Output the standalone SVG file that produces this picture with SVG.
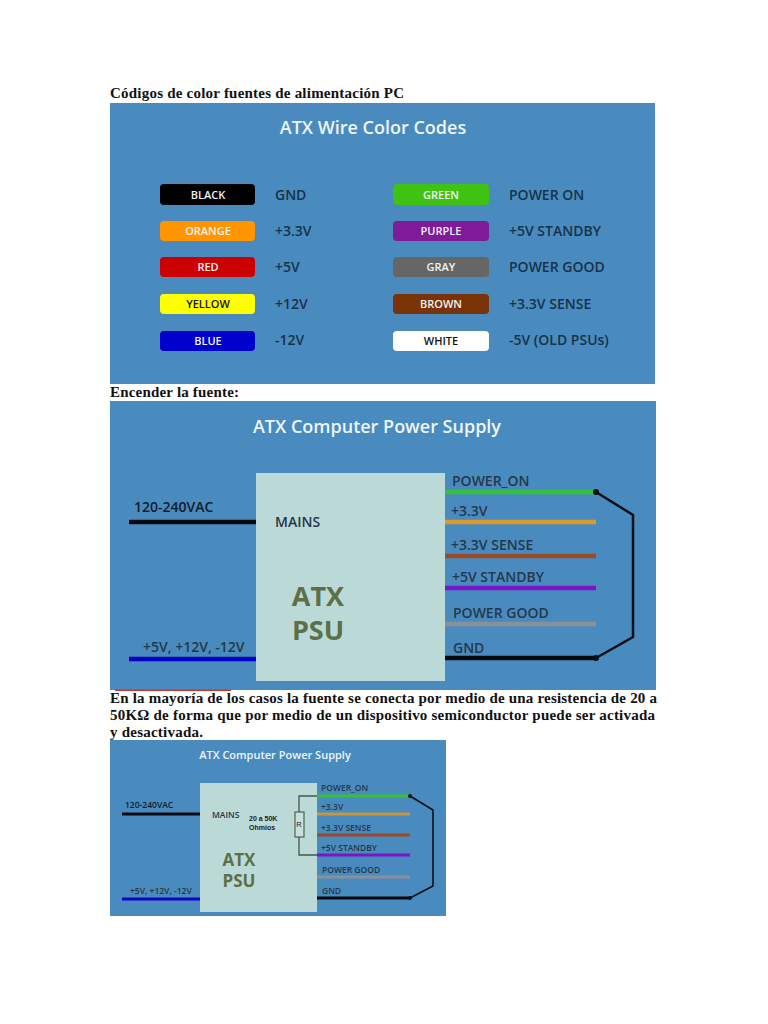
<svg xmlns="http://www.w3.org/2000/svg" width="768" height="1024" viewBox="0 0 768 1024">
<style>
.doc{font-family:"Liberation Serif",serif;font-weight:700;font-size:15px;fill:#111}
.panel{fill:#4a8bbf}
.t{font-family:"Open Sans","Noto Sans",sans-serif;font-weight:600}
.h1{font-size:18px;fill:#eef5f8;text-anchor:middle}
.sw{font-size:11px;text-anchor:middle;fill:#f2f2f2}
.lb{font-size:14px;fill:#17324a}
.l2{font-size:14px;fill:#24384a}
.l3{font-size:8.5px;fill:#24384a}
.wire{fill:none;stroke-width:4.5}
.wire3{fill:none;stroke-width:3}
.box{fill:#bbd9d6}
.atx{fill:#5b7048;font-weight:700;text-anchor:middle}
</style>
<rect width="768" height="1024" fill="#fff"/>
<text class="doc" x="110" y="98" textLength="294" lengthAdjust="spacing">Códigos de color fuentes de alimentación PC</text>
<text class="doc" x="110" y="397" textLength="129" lengthAdjust="spacing">Encender la fuente:</text>
<text class="doc" x="110" y="703" textLength="547" lengthAdjust="spacing">En la mayoría de los casos la fuente se conecta por medio de una resistencia de 20 a</text>
<text class="doc" x="110" y="720" textLength="545" lengthAdjust="spacing">50KΩ de forma que por medio de un dispositivo semiconductor puede ser activada</text>
<text class="doc" x="110" y="737" textLength="93" lengthAdjust="spacing">y desactivada.</text>

<g id="panel-codes">
<rect class="panel" x="110" y="103" width="545" height="281"/>
<text class="t h1" x="373" y="134">ATX Wire Color Codes</text>
<g id="black"><rect x="160" y="184" width="95" height="21" rx="4" fill="#000"/><text class="t sw" x="208" y="199">BLACK</text><text class="t lb" x="275" y="200">GND</text></g>
<g id="orange"><rect x="160" y="221" width="95" height="20" rx="4" fill="#ff9500"/><text class="t sw" x="208" y="235">ORANGE</text><text class="t lb" x="275" y="236">+3.3V</text></g>
<g id="red"><rect x="160" y="257" width="95" height="20" rx="4" fill="#cc0000"/><text class="t sw" x="208" y="271">RED</text><text class="t lb" x="275" y="272">+5V</text></g>
<g id="yellow"><rect x="160" y="294" width="95" height="20" rx="4" fill="#ffff00"/><text class="t sw" x="208" y="308" style="fill:#111">YELLOW</text><text class="t lb" x="275" y="309">+12V</text></g>
<g id="blue"><rect x="160" y="331" width="95" height="20" rx="4" fill="#0000cc"/><text class="t sw" x="208" y="345">BLUE</text><text class="t lb" x="275" y="345">-12V</text></g>
<g id="green"><rect x="393" y="184" width="96" height="21" rx="4" fill="#3fc212"/><text class="t sw" x="441" y="199">GREEN</text><text class="t lb" x="509" y="200">POWER ON</text></g>
<g id="purple"><rect x="393" y="221" width="96" height="20" rx="4" fill="#7f1a99"/><text class="t sw" x="441" y="235">PURPLE</text><text class="t lb" x="509" y="236">+5V STANDBY</text></g>
<g id="gray"><rect x="393" y="257" width="96" height="20" rx="4" fill="#666666"/><text class="t sw" x="441" y="271">GRAY</text><text class="t lb" x="509" y="272">POWER GOOD</text></g>
<g id="brown"><rect x="393" y="294" width="96" height="20" rx="4" fill="#7a3208"/><text class="t sw" x="441" y="308">BROWN</text><text class="t lb" x="509" y="309">+3.3V SENSE</text></g>
<g id="white"><rect x="393" y="331" width="96" height="20" rx="4" fill="#ffffff"/><text class="t sw" x="441" y="345" style="fill:#111">WHITE</text><text class="t lb" x="509" y="345">-5V (OLD PSUs)</text></g>
</g>

<g id="panel-psu">
<rect class="panel" x="110" y="401" width="546" height="289"/>
<rect x="115" y="689.5" width="116" height="1.5" fill="#c0392b"/>
<text class="t h1" x="377" y="433">ATX Computer Power Supply</text>
<g id="connectors-psu">
<path class="wire" stroke="#050a10" d="M129 522H256"/>
<path class="wire" stroke="#0000c8" d="M129 659H256"/>
<path class="wire" stroke="#35c23a" d="M445 492H596"/>
<path class="wire" stroke="#dc9a2c" d="M445 522H596"/>
<path class="wire" stroke="#9a4a28" d="M445 556H596"/>
<path class="wire" stroke="#7a16c8" d="M445 588H596"/>
<path class="wire" stroke="#8a9098" d="M445 624H596"/>
<path class="wire" stroke="#050a10" d="M445 658H596"/>
<path fill="none" stroke="#0a1018" stroke-width="2.5" d="M596 492L633 515V637L596 658"/>
<circle cx="596" cy="492" r="3" fill="#0a1018"/>
<circle cx="596" cy="658" r="3" fill="#0a1018"/>
</g>
<g id="psu">
<rect class="box" x="256" y="473" width="189" height="208"/>
<text class="t l2" x="275" y="527">MAINS</text>
<text class="t atx" x="318" y="606" font-size="27">ATX</text>
<text class="t atx" x="318" y="640" font-size="27">PSU</text>
</g>
<text class="t l2" x="134" y="512" style="fill:#0f1c28">120-240VAC</text>
<text class="t l2" x="143" y="652">+5V, +12V, -12V</text>
<text class="t l2" x="452" y="486">POWER_ON</text>
<text class="t l2" x="451" y="516">+3.3V</text>
<text class="t l2" x="451" y="550">+3.3V SENSE</text>
<text class="t l2" x="452" y="582">+5V STANDBY</text>
<text class="t l2" x="453" y="618">POWER GOOD</text>
<text class="t l2" x="453" y="653">GND</text>
</g>

<g id="panel-psu-r">
<rect class="panel" x="110" y="740" width="336" height="176"/>
<text class="t" x="275" y="759" font-size="11" fill="#eef5f8" text-anchor="middle">ATX Computer Power Supply</text>
<g id="connectors-psu-r">
<path class="wire3" stroke="#050a10" d="M122 814H200"/>
<path class="wire3" stroke="#0000c8" d="M122 899H200"/>
<path class="wire3" stroke="#35c23a" d="M317 796H410"/>
<path class="wire3" stroke="#c8963c" d="M317 814H410"/>
<path class="wire3" stroke="#9a4a28" d="M317 835H410"/>
<path class="wire3" stroke="#7a16c8" d="M317 855H410"/>
<path class="wire3" stroke="#8a9098" d="M317 877H410"/>
<path class="wire3" stroke="#050a10" d="M317 898H410"/>
<path fill="none" stroke="#0a1018" stroke-width="1.6" d="M410 796L433 810V886L410 898"/>
<circle cx="410" cy="796" r="2" fill="#0a1018"/>
<circle cx="410" cy="898" r="2" fill="#0a1018"/>
</g>
<g id="psu-r">
<rect class="box" x="200" y="783" width="117" height="129"/>
<text class="t l3" x="212" y="818">MAINS</text>
<text x="249" y="821" font-family="Liberation Sans,sans-serif" font-size="7" font-weight="700" fill="#222">20 a 50K</text>
<text x="249" y="830" font-family="Liberation Sans,sans-serif" font-size="7" font-weight="700" fill="#222">Ohmios</text>
<text class="t atx" x="239" y="866" font-size="17">ATX</text>
<text class="t atx" x="239" y="887" font-size="17">PSU</text>
</g>
<g id="resistor">
<path fill="none" stroke="#40584f" stroke-width="1.3" d="M317 796H299V812M299 837V855H317"/>
<rect x="295" y="812" width="9" height="25" fill="#c8dedb" stroke="#40584f" stroke-width="1.1"/>
<text x="299" y="827" font-family="Liberation Sans,sans-serif" font-size="7.5" fill="#222" text-anchor="middle">R</text>
</g>
<text class="t l3" x="125" y="808" style="fill:#0f1c28">120-240VAC</text>
<text class="t l3" x="130" y="894">+5V, +12V, -12V</text>
<text class="t l3" x="321" y="791">POWER_ON</text>
<text class="t l3" x="321" y="810">+3.3V</text>
<text class="t l3" x="321" y="831">+3.3V SENSE</text>
<text class="t l3" x="321" y="851">+5V STANDBY</text>
<text class="t l3" x="322" y="873">POWER GOOD</text>
<text class="t l3" x="322" y="894">GND</text>
</g>
</svg>
